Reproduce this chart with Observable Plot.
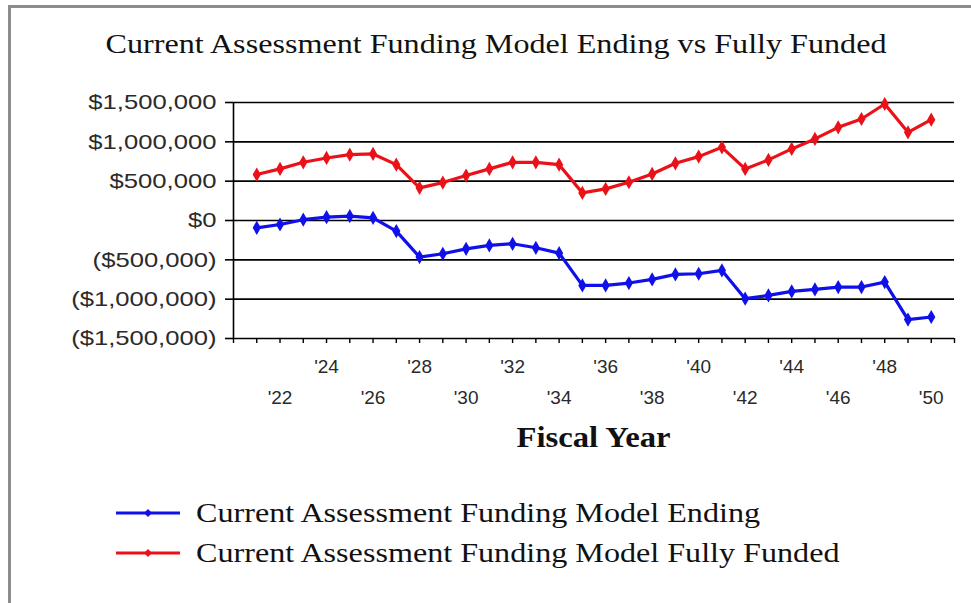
<!DOCTYPE html>
<html>
<head>
<meta charset="utf-8">
<script src="https://cdn.jsdelivr.net/npm/d3@7"></script>
<script src="https://cdn.jsdelivr.net/npm/@observablehq/plot@0.6"></script>
<style>
  html, body { margin: 0; padding: 0; background: #fff; }
  #page { position: relative; width: 971px; height: 603px; overflow: hidden; background: #fff; }
  #frame { position: absolute; left: 8px; top: 5px; width: 980px; height: 620px; border-left: 3px solid #8c8c8c; border-top: 3px solid #8c8c8c; }
  #title { position: absolute; left: 0; width: 992px; top: 29px; text-align: center; font-family: "Liberation Serif", serif; font-size: 27px; color: #111; white-space: nowrap; transform: scaleX(1.19); transform-origin: 496px 50%; }
  #chart { position: absolute; left: 0; top: 60px; }
  #xlabel { position: absolute; left: 0; width: 1187px; top: 420px; text-align: center; font-family: "Liberation Serif", serif; font-weight: bold; font-size: 30px; color: #111; transform: scaleX(1.09); transform-origin: 593.5px 50%; }
  .leg { position: absolute; left: 114px; height: 34px; display: flex; align-items: center; font-family: "Liberation Serif", serif; font-size: 27px; color: #111; white-space: nowrap; }
  .leg svg { margin-right: 14px; }
  .leg span { display: inline-block; transform: scaleX(1.19); transform-origin: 0 50%; }
</style>
</head>
<body>
<div id="page">
  <div id="frame"></div>
  <div id="title">Current Assessment Funding Model Ending vs Fully Funded</div>
  <div id="chart"></div>
  <div id="xlabel">Fiscal Year</div>
  <div id="legend"></div>
</div>
<script>
// ---- data ----
const years = [2021, 2022, 2023, 2024, 2025, 2026, 2027, 2028, 2029, 2030,
               2031, 2032, 2033, 2034, 2035, 2036, 2037, 2038, 2039, 2040,
               2041, 2042, 2043, 2044, 2045, 2046, 2047, 2048, 2049, 2050];
const ending = [-93000, -51000, 10000, 42000, 55000, 34000, -135000, -465000, -423000, -360000,
                -317000, -296000, -347000, -415000, -825000, -825000, -795000, -749000, -685000, -677000,
                -635000, -994000, -952000, -901000, -876000, -846000, -846000, -783000, -1260000, -1227000];
const fullyFunded = [584000, 656000, 740000, 795000, 837000, 846000, 710000, 415000, 482000, 571000,
                     656000, 740000, 740000, 710000, 351000, 402000, 486000, 592000, 727000, 812000,
                     930000, 656000, 770000, 910000, 1037000, 1184000, 1290000, 1481000, 1121000, 1282000];
const seriesNames = ["Current Assessment Funding Model Ending", "Current Assessment Funding Model Fully Funded"];
const seriesColors = ["#1010ea", "#ea1218"];
const yTicks = [-1500000, -1000000, -500000, 0, 500000, 1000000, 1500000];
const xTickYears = [2020, 2021, 2022, 2023, 2024, 2025, 2026, 2027, 2028, 2029, 2030, 2031, 2032, 2033, 2034, 2035,
                    2036, 2037, 2038, 2039, 2040, 2041, 2042, 2043, 2044, 2045, 2046, 2047, 2048, 2049, 2050, 2051];
const xLabelsUpper = [2024, 2028, 2032, 2036, 2040, 2044, 2048];
const xLabelsLower = [2022, 2026, 2030, 2034, 2038, 2042, 2046, 2050];

// ---- build ----
const endingData = years.map((y, i) => ({year: y, value: ending[i]}));
const ffData = years.map((y, i) => ({year: y, value: fullyFunded[i]}));

const money = v => {
  const s = "$" + d3.format(",")(Math.abs(v));
  return v < 0 ? "(" + s + ")" : s;
};
const yr = d => "'" + String(d).slice(2);

const chart = Plot.plot({
  width: 971,
  height: 400,
  marginLeft: 233,
  marginRight: 17,
  marginTop: 42,
  marginBottom: 122,
  style: {fontFamily: "Liberation Sans, Arial, sans-serif", fontSize: "21px", color: "#2a2a2a", background: "transparent", overflow: "visible"},
  x: {domain: [2020, 2051]},
  y: {domain: [-1500000, 1500000]},
  marks: [
    Plot.ruleY(yTicks, {x1: 2020, x2: 2051, stroke: "#000", strokeWidth: 1.6}),
    Plot.ruleX([2020], {y1: -1500000, y2: 1500000, stroke: "#000", strokeWidth: 1.6}),
    Plot.axisY(yTicks, {tickSize: 8, tickPadding: 9, tickFormat: money, stroke: "#000", strokeWidth: 1.6, fill: "#2a2a2a", fontSize: 21, label: null}),
    Plot.axisX(xTickYears, {tickSize: 5, tickFormat: () => "", stroke: "#000", strokeWidth: 1.4, label: null}),
    Plot.axisX(xLabelsUpper, {tickSize: 0, tickPadding: 21, tickFormat: yr, fontSize: 19, fill: "#2a2a2a", label: null}),
    Plot.axisX(xLabelsLower, {tickSize: 0, tickPadding: 52, tickFormat: yr, fontSize: 19, fill: "#2a2a2a", label: null}),
    Plot.line(ffData, {x: "year", y: "value", stroke: seriesColors[1], strokeWidth: 3.2}),
    Plot.dot(ffData, {x: "year", y: "value", symbol: "diamond", r: 4.3, fill: seriesColors[1]}),
    Plot.line(endingData, {x: "year", y: "value", stroke: seriesColors[0], strokeWidth: 3.2}),
    Plot.dot(endingData, {x: "year", y: "value", symbol: "diamond", r: 4.3, fill: seriesColors[0]})
  ]
});
document.getElementById("chart").appendChild(chart);

// widen the y tick labels (the reference font is horizontally stretched)
chart.querySelectorAll('g[aria-label="y-axis tick label"] text').forEach(t => {
  const len = t.getComputedTextLength();
  if (len > 0) {
    t.setAttribute("textLength", (len * 1.22).toFixed(1));
    t.setAttribute("lengthAdjust", "spacingAndGlyphs");
  }
});

// legend
const legend = document.getElementById("legend");
const legTops = [496, 536];
seriesNames.forEach((name, i) => {
  const div = document.createElement("div");
  div.className = "leg";
  div.style.top = legTops[i] + "px";
  div.innerHTML = `<svg width="68" height="12"><line x1="2" y1="6" x2="66" y2="6" stroke="${seriesColors[i]}" stroke-width="3.2"/><path d="M34,2 L38,6 L34,10 L30,6 Z" fill="${seriesColors[i]}"/></svg>`;
  const span = document.createElement("span");
  span.textContent = name;
  div.appendChild(span);
  legend.appendChild(div);
});
</script>
</body>
</html>
